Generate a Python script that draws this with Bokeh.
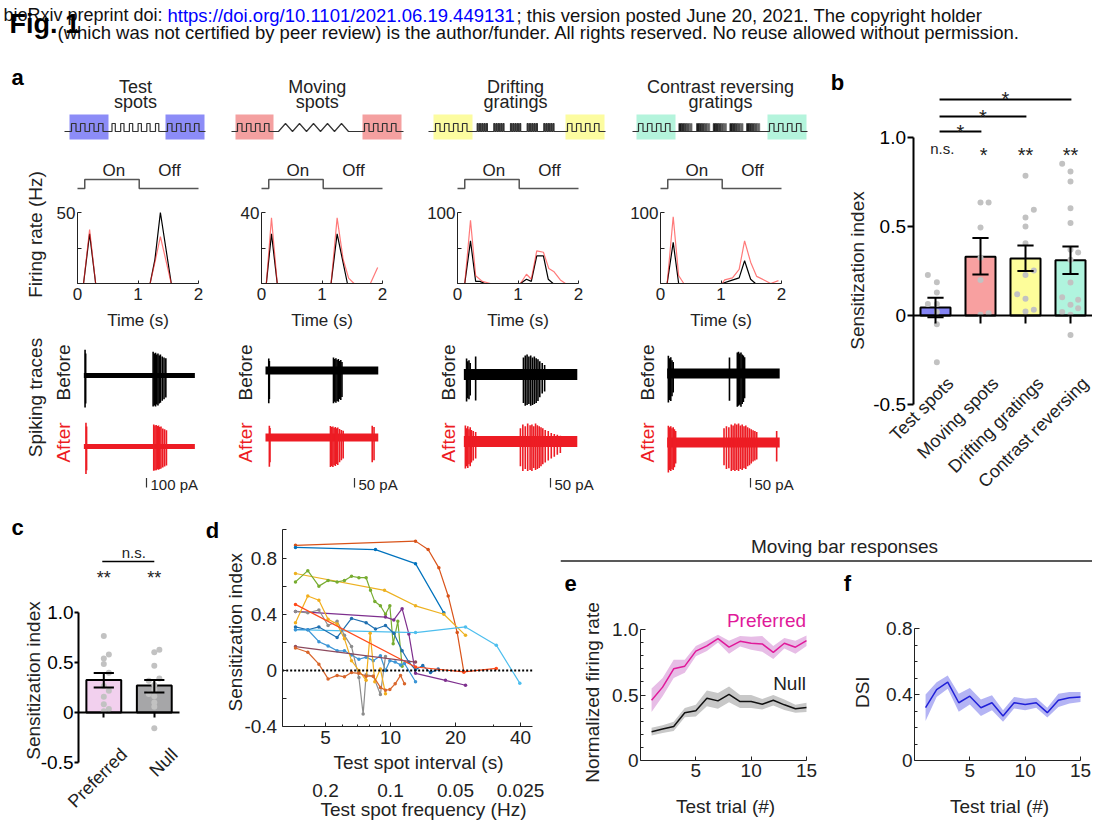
import numpy as np
from math import pi, log10
from bokeh.plotting import figure
from bokeh.models import (Range1d, Label, FixedTicker, CustomJSTickFormatter, Span,
                          LinearAxis, LogAxis)
from bokeh.layouts import row, column
from bokeh.embed import file_html
from bokeh.resources import INLINE

FONT = "Liberation Sans"
TXT = "#222222"
RED = "#ed1c24"

# ======================= DATA =======================
# ---- panel a : firing rate (Hz) vs time (s), before (black) / after (red)
a_titles = [["Test", "spots"], ["Moving", "spots"], ["Drifting", "gratings"], ["Contrast reversing", "gratings"]]
a_rate_max = [50, 40, 100, 100]
onoff_t = [0, 0.12, 0.12, 1.02, 1.02, 2.0]
onoff_level = [0, 0, 1, 1, 0, 0]
rate_before_t = [
    [0, 0.10, 0.20, 0.30, 1.20, 1.28, 1.37, 1.55, 1.92],
    [0, 0.08, 0.165, 0.26, 1.15, 1.25, 1.42, 1.92],
    [0, 0.12, 0.215, 0.30, 0.37, 0.45, 1.04, 1.14, 1.22, 1.31, 1.42, 1.50, 1.58, 1.92],
    [0, 0.11, 0.21, 0.30, 1.02, 1.16, 1.30, 1.39, 1.49, 1.57, 1.92],
]
rate_before_v = [
    [0, 0, 35, 0, 0, 17, 50, 0, 0],
    [0, 0, 28, 0, 0, 28, 0, 0],
    [0, 0, 60, 3, 3, 0, 0, 6, 3, 39, 39, 6, 0, 0],
    [0, 0, 58, 0, 0, 4, 8, 32, 6, 0, 0],
]
rate_after_t = [
    [0, 0.10, 0.20, 0.30, 1.20, 1.28, 1.37, 1.55, 1.92],
    [0, 0.08, 0.165, 0.26, 1.15, 1.25, 1.35, 1.44, 1.53, 1.80, 1.92],
    [0, 0.12, 0.215, 0.30, 0.41, 0.545, 1.04, 1.14, 1.22, 1.31, 1.42, 1.51, 1.59, 1.70, 1.785, 1.92],
    [0, 0.11, 0.21, 0.30, 0.385, 1.02, 1.06, 1.19, 1.30, 1.39, 1.49, 1.59, 1.71, 1.82, 1.95],
]
rate_after_v = [
    [0, 0, 38, 0, 0, 15, 33, 0, 0],
    [0, 0, 37, 0, 0, 37, 13.5, 3, 0, 0, 9],
    [0, 0, 89, 11, 3, 0, 0, 13, 6, 46, 44, 21, 17, 5, 0, 0],
    [0, 0, 94, 11, 0, 0, 5, 8, 20, 60, 30, 10, 5, 0, 4],
]
# ---- panel a : spiking traces (spike time s, upward / downward deflection pA)
trace_span = [[0.105, 1.94], [0.066, 1.93], [0.105, 1.98], [0.11, 1.97]]
scale_bar_pa = [100, 50, 50, 50]
sp_before_t = [
    [0.125, 0.135, 1.25, 1.27, 1.29, 1.31, 1.33, 1.35, 1.37, 1.40, 1.43, 1.46],
    [0.12, 0.13, 1.19, 1.21, 1.23, 1.25, 1.27, 1.29, 1.31, 1.33],
    [0.15, 0.17, 0.19, 0.21, 0.30, 1.09, 1.12, 1.15, 1.18, 1.21, 1.24, 1.27, 1.30, 1.33, 1.36, 1.40, 1.44],
    [0.13, 0.15, 0.17, 0.19, 0.21, 1.14, 1.27, 1.29, 1.31, 1.33, 1.35, 1.37, 1.39],
]
sp_before_up = [
    [270, 230, 250, 230, 240, 220, 230, 210, 220, 200, 190, 180],
    [63, 50, 68, 60, 65, 55, 60, 50, 55, 45],
    [84, 70, 75, 60, 95, 90, 100, 105, 95, 100, 90, 95, 85, 80, 70, 60, 50],
    [93, 80, 85, 70, 60, 84, 110, 115, 105, 110, 100, 95, 85],
]
sp_before_dn = [
    [335, 295, 325, 315, 325, 305, 315, 295, 285, 265, 250, 230],
    [172, 150, 172, 165, 170, 160, 165, 150, 155, 140],
    [142, 125, 130, 110, 137, 150, 165, 160, 155, 165, 160, 155, 150, 140, 120, 100, 90],
    [152, 140, 145, 120, 100, 143, 175, 170, 165, 175, 160, 150, 130],
]
sp_after_t = [
    [0.14, 0.15, 1.26, 1.28, 1.30, 1.32, 1.34, 1.36, 1.38, 1.41, 1.44, 1.47],
    [0.13, 0.14, 1.14, 1.16, 1.18, 1.20, 1.22, 1.24, 1.26, 1.29, 1.32, 1.35, 1.83, 1.86],
    [0.13, 0.15, 0.17, 0.19, 0.21, 0.23, 0.26, 0.30, 1.04, 1.08, 1.12, 1.16, 1.20, 1.23, 1.26,
     1.29, 1.32, 1.35, 1.38, 1.41, 1.45, 1.50, 1.55, 1.60, 1.65, 1.70],
    [0.13, 0.15, 0.17, 0.19, 0.21, 0.23, 0.25, 1.05, 1.09, 1.13, 1.17, 1.20, 1.23, 1.26, 1.29,
     1.32, 1.35, 1.38, 1.41, 1.44, 1.47, 1.50, 1.53, 1.56, 1.59, 1.92],
]
sp_after_up = [
    [250, 210, 230, 220, 225, 215, 220, 205, 210, 190, 180, 170],
    [62, 50, 60, 55, 58, 50, 55, 48, 52, 45, 40, 35, 62, 55],
    [84, 70, 80, 65, 75, 60, 55, 50, 70, 90, 80, 95, 85, 90, 80, 95, 85, 80, 75, 70, 60, 55, 45, 40, 35, 30],
    [88, 80, 85, 75, 80, 70, 60, 75, 85, 80, 95, 90, 100, 95, 100, 90, 95, 85, 90, 80, 75, 70, 65, 60, 55, 60],
]
sp_after_dn = [
    [290, 250, 255, 250, 250, 240, 245, 235, 230, 220, 210, 200],
    [154, 130, 155, 150, 155, 145, 150, 140, 145, 130, 120, 110, 130, 120],
    [142, 130, 140, 120, 130, 110, 100, 90, 130, 155, 145, 155, 150, 155, 140, 150, 145, 140, 130, 120,
     110, 100, 90, 80, 70, 60],
    [158, 145, 150, 140, 145, 130, 110, 120, 140, 135, 150, 145, 150, 145, 150, 140, 145, 135, 140, 125,
     120, 110, 100, 95, 90, 100],
]

# ---- panel b
b_cats = ["Test spots", "Moving spots", "Drifting gratings", "Contrast reversing"]
b_mean = [0.045, 0.33, 0.32, 0.31]
b_err_lo = [-0.01, 0.23, 0.25, 0.233]
b_err_hi = [0.10, 0.435, 0.393, 0.388]
b_dots = [
    [0.228, 0.187, 0.129, 0.064, 0.064, 0.019, -0.049, -0.262],
    [0.635, 0.635, 0.494, 0.324, 0.20, 0.004, 0.013],
    [0.785, 0.594, 0.55, 0.50, 0.406, 0.253, 0.228, 0.12, 0.094, 0.032, 0.022],
    [0.852, 0.809, 0.753, 0.603, 0.519, 0.369, 0.354, 0.313, 0.185, 0.103, 0.088, 0.06, 0.041, 0.019, 0.004, -0.109],
]
b_jitter = [
    [-0.17, 0.03, 0.03, -0.17, 0.03, 0.03, 0.03, 0.03],
    [0.0, 0.18, 0.0, 0.0, 0.0, 0.0, 0.18],
    [0.0, 0.185, 0.0, 0.0, 0.0, 0.185, 0.0, -0.185, 0.0, 0.185, 0.0],
    [-0.185, 0.0, 0.0, 0.0, 0.0, 0.0, 0.17, 0.0, 0.0, -0.185, 0.17, 0.0, 0.17, -0.185, 0.0, 0.0],
]
b_sig = ["n.s.", "*", "**", "**"]
b_pairs = [(1, 2), (1, 3), (1, 4)]
b_pair_sig = ["*", "*", "*"]

# ---- panel c
c_cats = ["Preferred", "Null"]
c_mean = [0.325, 0.27]
c_err_lo = [0.25, 0.20]
c_err_hi = [0.395, 0.325]
c_dots = [
    [0.766, 0.58, 0.54, 0.484, 0.397, 0.266, 0.218, 0.157, 0.083, 0.035, 0.013],
    [0.628, 0.603, 0.468, 0.34, 0.317, 0.276, 0.228, 0.186, 0.163, 0.099, 0.058, -0.157],
]
c_jitter = [
    [0, 0.1, 0, 0, 0.1, 0, 0.1, 0, 0, 0.1, 0],
    [0.1, 0, 0, 0.1, -0.11, 0, 0, -0.11, 0, 0, 0, 0],
]
c_sig = ["**", "**"]
c_pair_sig = "n.s."

# ---- panel d : sensitization index vs test spot interval (s)
d_x = [
    [3.63, 13.06, 14.94, 16.75, 18.5, 20.37, 21.86],
    [3.63, 8.52, 13.06, 17.66],
    [3.63, 9.38, 13.06, 17.66, 22.25],
    [3.63, 4.14, 4.66, 5.14, 5.66, 6.12, 6.60, 7.14, 7.71, 8.08, 8.46, 8.98, 9.48, 9.93, 10.29, 10.81, 11.32],
    [3.63, 9.48, 10.36, 11.32, 12.16, 13.06, 17.97, 22.25],
    [3.63, 13.06, 22.25, 30.9, 39.7],
    [3.63, 4.14, 4.66, 5.66, 6.60, 7.71, 8.52, 9.48, 10.36, 11.32, 12.16, 13.06, 14.11, 15.32, 16.62],
    [3.63, 4.14, 4.66, 5.14, 5.66, 6.12, 6.60, 7.14, 7.71, 8.32, 8.98, 9.48, 9.93, 10.51, 11.13, 11.61, 13.06],
    [3.63, 4.14, 4.66, 5.14, 5.66, 6.12, 6.60, 7.14, 7.47, 7.71, 8.32, 8.98, 9.48],
    [3.63, 4.14, 4.66, 5.14, 5.66, 6.12, 6.60, 7.14, 7.71, 8.05, 8.46, 8.98, 9.48],
    [3.63, 13.06, 21.86, 30.9],
    [3.63, 13.06],
    [3.63, 4.14, 4.66, 5.14, 5.66, 6.12, 6.60, 7.14, 7.71, 8.32, 8.98, 9.48, 9.93, 10.51, 11.13, 11.61],
]
d_y = [
    [0.89, 0.92, 0.86, 0.73, 0.53, 0.27, -0.01],
    [0.875, 0.86, 0.76, 0.41],
    [0.69, 0.57, 0.46, 0.40, 0.25],
    [0.63, 0.71, 0.60, 0.64, 0.63, 0.64, 0.67, 0.66, 0.66, 0.57, 0.49, 0.46, 0.40, 0.46, 0.19, 0.35, 0.03],
    [0.42, 0.38, 0.36, 0.44, 0.26, -0.02, -0.07, -0.105],
    [0.29, 0.27, 0.31, 0.18, -0.09],
    [0.31, 0.29, 0.31, 0.235, 0.37, 0.34, 0.295, 0.32, 0.265, 0.14, 0.06, 0.005, 0.035, -0.015, 0.01],
    [0.29, 0.29, 0.205, 0.175, 0.14, 0.14, 0.11, 0.08, 0.095, 0.07, 0.105, 0.0, 0.07, 0.06, 0.04, 0.05, -0.08],
    [0.42, 0.41, 0.43, 0.32, 0.35, 0.25, 0.17, -0.05, -0.31, -0.03, -0.04, -0.17, 0.10],
    [0.34, 0.53, 0.50, 0.365, 0.33, 0.225, 0.07, 0.0, -0.07, 0.265, -0.08, 0.01, -0.165],
    [0.47, 0.025, -0.01, 0.015],
    [0.17, 0.06],
    [0.16, 0.13, 0.045, -0.06, -0.035, -0.045, -0.015, -0.02, -0.04, -0.04, -0.12, -0.14, -0.135, -0.095, -0.035, -0.095],
]
d_colors = ["#D95319", "#0072BD", "#EDB120", "#77AC30", "#7E2F8E", "#4DBEEE", "#1f6fb0",
            "#3b95d6", "#8c8c8c", "#f2ae1c", "#ff4a1a", "#8c4a5e", "#d9662b"]
d_ticks = [5, 10, 20, 40]
d_minor = [4, 6, 7, 8, 9, 30]
D_XMIN, D_XMAX = 3.15, 45.3

# ---- panels e, f
trials = list(range(1, 16))
pref_mean = [0.46, 0.56, 0.70, 0.72, 0.835, 0.875, 0.93, 0.865, 0.91, 0.895, 0.89, 0.825, 0.895, 0.865, 0.915]
pref_sem = [0.09, 0.07, 0.07, 0.05, 0.04, 0.04, 0.03, 0.05, 0.04, 0.05, 0.06, 0.05, 0.04, 0.05, 0.04]
null_mean = [0.22, 0.24, 0.26, 0.365, 0.38, 0.475, 0.455, 0.505, 0.45, 0.45, 0.43, 0.46, 0.425, 0.395, 0.405]
null_sem = [0.03, 0.03, 0.035, 0.035, 0.045, 0.06, 0.06, 0.06, 0.05, 0.05, 0.04, 0.04, 0.04, 0.03, 0.035]
dsi_mean = [0.32, 0.43, 0.475, 0.35, 0.39, 0.32, 0.35, 0.27, 0.35, 0.34, 0.35, 0.29, 0.365, 0.38, 0.385]
dsi_sem = [0.08, 0.045, 0.04, 0.055, 0.05, 0.05, 0.045, 0.035, 0.035, 0.035, 0.03, 0.03, 0.04, 0.035, 0.03]


# ======================= HELPERS =======================
class Panel:
    """A figure whose frame fills its whole box (page pixels); the data mapping is
    fixed by two reference points per axis. x(px)/y(py) convert page pixels to data."""

    def __init__(self, box, xa, xb, ya, yb, xlog=False):
        X0, Y0, X1, Y1 = box
        self.xlog = xlog
        (pa, va), (pb, vb) = xa, xb
        if xlog:
            va, vb = log10(va), log10(vb)
        self.kx = (vb - va) / (pb - pa)
        self.cx = va - self.kx * pa
        (qa, wa), (qb, wb) = ya, yb
        self.ky = (wb - wa) / (qb - qa)
        self.cy = wa - self.ky * qa
        p = figure(width=X1 - X0, height=Y1 - Y0,
                   x_range=Range1d(self.x(X0), self.x(X1)), y_range=Range1d(self.y(Y1), self.y(Y0)),
                   x_axis_type="log" if xlog else "linear",
                   x_axis_location=None, y_axis_location=None, min_border=0,
                   output_backend="svg", toolbar_location=None)
        p.outline_line_color = None
        p.xgrid.visible = False
        p.ygrid.visible = False
        try:
            p.frame_align = False
        except Exception:
            pass
        self.p = p

    def x(self, px):
        v = self.cx + self.kx * px
        return 10 ** v if self.xlog else v

    def y(self, py):
        return self.cy + self.ky * py


def lab(P, x, y, text, size=19, color=TXT, align="center", angle=0, bold=False):
    P.p.add_layout(Label(x=x, y=y, text=text, text_font=FONT, text_font_size=f"{size}px",
                         text_color=color, text_align=align, text_baseline="middle", angle=angle,
                         text_font_style="bold" if bold else "normal"))


def mid(baseline_px, size):
    """page-pixel y of a text's middle, given where its baseline should sit"""
    return baseline_px - 0.3465 * size


def add_axis(P, side, at, ticks, bounds, minor=None, fmt=None, tin=0, tout=0, mtin=0, standoff=2,
             size=19, width=1, color=TXT, log=False):
    cls = LogAxis if log else LinearAxis
    ax = cls(fixed_location=at, bounds=bounds,
             ticker=FixedTicker(ticks=ticks, minor_ticks=minor or []))
    if fmt is not None:
        ax.formatter = CustomJSTickFormatter(code=fmt)
    ax.major_tick_in, ax.major_tick_out = tin, tout
    ax.minor_tick_in, ax.minor_tick_out = mtin, 0
    ax.major_label_standoff = standoff
    ax.axis_line_color = color
    ax.axis_line_width = width
    ax.major_tick_line_color = color
    ax.major_tick_line_width = width
    ax.minor_tick_line_color = color
    ax.major_label_text_font = FONT
    ax.major_label_text_font_size = f"{size}px"
    ax.major_label_text_color = color
    P.p.add_layout(ax, side)
    return ax


FMT1 = "return tick == 0 ? '0' : tick.toFixed(1);"
FMT_EMPTY = "return '';"


def err_bars(p, xs, lo, hi, cw, lw=2):
    p.segment(x0=xs, y0=lo, x1=xs, y1=hi, color="black", line_width=lw)
    p.segment(x0=[x - cw for x in xs], y0=hi, x1=[x + cw for x in xs], y1=hi, color="black", line_width=lw)
    p.segment(x0=[x - cw for x in xs], y0=lo, x1=[x + cw for x in xs], y1=lo, color="black", line_width=lw)


W, HGT = 1092, 820

# ======================= HEADER =======================
H = Panel((0, 0, W, 52), (0, 0), (W, W), (0, 0), (52, 52))
lab(H, 162, mid(21, 18), "bioRxiv preprint doi:", size=18, color="#111", align="right")
lab(H, 167, mid(21, 18.5), "https://doi.org/10.1101/2021.06.19.449131", size=18.5, color="#0000ff", align="left")
lab(H, 516, mid(21, 18.5), "; this version posted June 20, 2021. The copyright holder",
    size=18.5, color="#111", align="left")
lab(H, 57, mid(38.5, 18.5), "(which was not certified by peer review) is the author/funder. All rights reserved. "
    "No reuse allowed without permission.", size=18.5, color="#111", align="left")
lab(H, 9, mid(33, 27), "Fig. 1", size=27, color="#000", align="left", bold=True)

# ======================= PANEL a =======================
COLS = [dict(x0=0, w=228, t0=77), dict(x0=228, w=194, t0=261),
        dict(x0=422, w=200, t0=457), dict(x0=622, w=208, t0=660)]
TITLE_CX = [135, 316.7, 515, 720]
BOX_COLORS = ["#8c8cf7", "#f4a0a0", "#fcfca0", "#b4f4dc"]
ICONS = [
    dict(line=(64, 205), b1=(69, 108), b2=(165, 204), mid=("pulse", [111.5], 8.7, 3.3, 6)),
    dict(line=(231, 403), b1=(235, 273), b2=(362, 401), mid=("zig", [278], 14, 0, 5)),
    dict(line=(428, 605), b1=(433, 472), b2=(565, 604), mid=("grating", [476.7, 493.3, 510, 526.7, 543.3], 2.3, 1.0, 5)),
    dict(line=(632, 807), b1=(636, 675), b2=(767, 806), mid=("blocks", [678.3, 696, 712.7, 729.3, 746], 13.3, 0, 0)),
]
PA_PER_PX = [10.5, 5.26, 5.26, 5.26]
BAND_PX = [5, 8, 11, 10]
TR_BASE_BEFORE = [375, 370, 374, 373]
TR_BASE_AFTER = [446, 437, 441, 442]
SB_X = [146, 354, 550, 750]
BEF_X = [63, 244.5, 447.5, 646.5]


def icon_points(ic):
    base, hi = 131, 123
    pts = [(ic["line"][0], base)]

    def add_pulses(start, period, width, n):
        for k in range(n):
            s = start + k * period
            pts.extend([(s, base), (s, hi), (s + width, hi), (s + width, base)])

    add_pulses(ic["b1"][0] + 2, 9, 4.5, 4)
    kind, starts, a1, a2, n = ic["mid"]
    if kind == "pulse":
        add_pulses(starts[0], a1, a2, n)
    elif kind == "zig":
        for k in range(n):
            s = starts[0] + k * a1
            pts.extend([(s, base), (s + a1 / 2, hi), (s + a1, base)])
    elif kind == "grating":
        for g in starts:
            add_pulses(g, a1, a2, n)
    add_pulses(ic["b2"][0] + 2, 9, 4.5, 4)
    pts.append((ic["line"][1], base))
    return pts


a_cols = []
for i, c in enumerate(COLS):
    x0, w, t0 = c["x0"], c["w"], c["t0"]
    xa, xb = (t0, 0.0), (t0 + 121, 2.0)

    # --- stimulus schematic (y in page pixels)
    T = Panel((x0, 52, x0 + w, 160), xa, xb, (52, 52), (160, 160))
    ic = ICONS[i]
    T.p.quad(left=[T.x(ic["b1"][0]), T.x(ic["b2"][0])], right=[T.x(ic["b1"][1]), T.x(ic["b2"][1])],
             top=[114, 114], bottom=[139, 139], fill_color=BOX_COLORS[i], line_color=None)
    if ic["mid"][0] == "blocks":
        shades = ["#1c1c1c", "#2a2a2a", "#3a3a3a", "#4e4e4e", "#666666"]
        for s0 in ic["mid"][1]:
            sub = ic["mid"][2] / 5
            T.p.quad(left=[T.x(s0 + k * sub) for k in range(5)], right=[T.x(s0 + (k + 1) * sub) for k in range(5)],
                     top=[123] * 5, bottom=[131] * 5, fill_color=shades, line_color=shades, line_width=0.5)
    pts = icon_points(ic)
    T.p.line([T.x(px) for px, _ in pts], [py for _, py in pts], color="#333333", line_width=1.2)
    tx = T.x(TITLE_CX[i])
    lab(T, tx, mid(93, 18), a_titles[i][0], size=18)
    lab(T, tx, mid(107.5, 18), a_titles[i][1], size=18)
    if i == 0:
        lab(T, T.x(17), 77, "a", size=22, color="#000", bold=True)

    # --- firing rate
    ymax = a_rate_max[i]
    Rf = Panel((x0, 160, x0 + w, 335), xa, xb, (283, 0.0), (212, ymax))
    add_axis(Rf, "left", 0, [ymax], (0, ymax), minor=[ymax / 2], tin=4, mtin=4, standoff=2, size=17)
    add_axis(Rf, "below", 0, [0, 1, 2], (0, 2), tin=3, standoff=4, size=17)
    Rf.p.line(rate_before_t[i], rate_before_v[i], color="black", line_width=1.2)
    Rf.p.line(rate_after_t[i], rate_after_v[i], color="#ff2020", line_width=1.2, alpha=0.6)
    Rf.p.line(onoff_t, [Rf.y(188) if lv == 0 else Rf.y(179) for lv in onoff_level],
              color="#555555", line_width=1.5)
    lab(Rf, 0.6, Rf.y(mid(175.5, 17)), "On", size=17)
    lab(Rf, 1.52, Rf.y(mid(175.5, 17)), "Off", size=17)
    lab(Rf, 1.0, Rf.y(320), "Time (s)", size=17)
    if i == 0:
        lab(Rf, Rf.x(35), Rf.y(234), "Firing rate (Hz)", size=19, angle=pi / 2)

    # --- spiking traces (y in pA, before-trace baseline = 0)
    s = PA_PER_PX[i]
    ybp = TR_BASE_BEFORE[i]
    Tr = Panel((x0, 335, x0 + w, 500), xa, xb, (ybp, 0.0), (ybp - 1, s))
    off = Tr.y(TR_BASE_AFTER[i])
    for base, tt, up, dn, col in [(0.0, sp_before_t[i], sp_before_up[i], sp_before_dn[i], "black"),
                                  (off, sp_after_t[i], sp_after_up[i], sp_after_dn[i], RED)]:
        Tr.p.line(trace_span[i], [base, base], color=col, line_width=BAND_PX[i])
        Tr.p.segment(x0=tt, y0=[base + u for u in up], x1=tt, y1=[base - d for d in dn],
                     color=col, line_width=1.6)
    sbx, sby = Tr.x(SB_X[i]), Tr.y(487)
    Tr.p.segment(x0=[sbx], y0=[sby], x1=[sbx], y1=[sby + scale_bar_pa[i]], color="#333333", line_width=1.2)
    lab(Tr, Tr.x(SB_X[i] + 4), Tr.y(484), f"{scale_bar_pa[i]} pA", size=15, align="left")
    lab(Tr, Tr.x(BEF_X[i]), Tr.y(372), "Before", size=19, angle=pi / 2)
    lab(Tr, Tr.x(BEF_X[i]), Tr.y(442), "After", size=19, color=RED, angle=pi / 2)
    if i == 0:
        lab(Tr, Tr.x(35), Tr.y(397), "Spiking traces", size=19, angle=pi / 2)

    a_cols.append(column(T.p, Rf.p, Tr.p))

# ======================= PANEL b =======================
B = Panel((830, 52, W, 500), (935, 1.0), (980, 2.0), (315, 0.0), (137, 1.0))
b_x = [1, 2, 3, 4]
B.p.vbar(x=b_x, width=0.667, top=b_mean, bottom=0,
         fill_color=["#8484f4", "#f8a0a0", "#fdfd9a", "#b0f4de"], line_color="black", line_width=2)
B.p.scatter([k + 1 + j for k in range(4) for j in b_jitter[k]],
            [v for k in range(4) for v in b_dots[k]], size=6, color="#c2c2c2", line_color=None)
err_bars(B.p, b_x, b_err_lo, b_err_hi, 0.18)
add_axis(B, "left", 0.5, [-0.5, 0, 0.5, 1.0], (-0.5, 1.0), fmt=FMT1, tout=6, standoff=1, width=2, color="black")
add_axis(B, "below", 0, b_x, (0.5, B.x(W)), fmt=FMT_EMPTY, tout=8, width=2, color="black")
for k, name in enumerate(b_cats):
    lab(B, k + 1 + 0.33, B.y(380), name, size=18, align="right", angle=pi / 4)
for k, sg in enumerate(b_sig):
    if sg == "n.s.":
        lab(B, k + 1 + 0.15, B.y(148), sg, size=15)
    else:
        lab(B, k + 1 + (0.07 if k == 1 else 0), B.y(154), sg, size=20)
for (p1, p2), sg, ly, sy in zip(b_pairs, b_pair_sig, [131, 116, 99], [131.5, 116.5, 98.5]):
    xa_, xb_ = p1 + 0.09, p2 + 0.02
    B.p.segment(x0=[xa_], y0=[B.y(ly)], x1=[xb_], y1=[B.y(ly)], color="black", line_width=2)
    lab(B, (xa_ + xb_) / 2, B.y(sy), sg, size=20)
lab(B, B.x(837), B.y(81.7), "b", size=22, color="#000", bold=True)
lab(B, B.x(856.7), B.y(270), "Sensitization index", size=19, angle=pi / 2)

# ======================= PANEL c =======================
C = Panel((0, 500, 200, HGT), (103.3, 1.0), (153.8, 2.0), (712, 0.0), (612, 1.0))
c_x = [1, 2]
C.p.vbar(x=c_x, width=0.69, top=c_mean, bottom=0, fill_color=["#f2d0ee", "#a6a6a8"],
         line_color="black", line_width=2)
C.p.scatter([k + 1 + j for k in range(2) for j in c_jitter[k]],
            [v for k in range(2) for v in c_dots[k]], size=6, color="#c2c2c2", line_color=None)
err_bars(C.p, c_x, c_err_lo, c_err_hi, 0.2)
add_axis(C, "left", 0.5, [-0.5, 0, 0.5, 1.0], (-0.5, 1.0), fmt=FMT1, tout=4, standoff=1, width=2, color="black")
add_axis(C, "below", 0, c_x, (0.5, 2.5), fmt=FMT_EMPTY, tout=5, width=2, color="black")
for k, name in enumerate(c_cats):
    lab(C, k + 1 + 0.40, C.y(751), name, size=18, align="right", angle=pi / 4)
for k, sg in enumerate(c_sig):
    lab(C, k + 1, C.y(577), sg, size=18)
C.p.segment(x0=[0.97], y0=[C.y(561)], x1=[2.0], y1=[C.y(561)], color="black", line_width=1.5)
lab(C, C.x(133.3), C.y(551.5), c_pair_sig, size=15)
lab(C, C.x(17), C.y(526.7), "c", size=22, color="#000", bold=True)
lab(C, C.x(33), C.y(680), "Sensitization index", size=19, angle=pi / 2)

# ======================= PANEL d =======================
D = Panel((200, 500, 560, HGT), (325, 5.0), (390, 10.0), (670, 0.0), (557.5, 0.8), xlog=True)
for xs, ys, col in zip(d_x, d_y, d_colors):
    D.p.line(xs, ys, color=col, line_width=1.2)
    D.p.scatter(xs, ys, size=3.5, color=col, line_color=None)
D.p.line([D_XMIN, D_XMAX], [0, 0], color="black", line_dash="2 2", line_width=2)
add_axis(D, "left", D_XMIN, [-0.4, 0, 0.4, 0.8], (-0.4, 1.0), minor=[-0.2, 0.2, 0.6, 1.0],
         fmt=FMT1, tin=4, mtin=4, standoff=5)
add_axis(D, "below", -0.4, d_ticks, (D_XMIN, D_XMAX), minor=d_minor, fmt="return String(tick);",
         tin=4, mtin=2, standoff=4, log=True)
for v in d_ticks:
    lab(D, v, D.y(790), f"{1 / v:g}", size=19)
lab(D, D.x(235), D.y(631.7), "Sensitization index", size=19, angle=pi / 2)
lab(D, D.x(418), D.y(762), "Test spot interval (s)", size=19)
lab(D, D.x(423), D.y(808.5), "Test spot frequency (Hz)", size=19)
lab(D, D.x(212), D.y(530), "d", size=22, color="#000", bold=True)

# ======================= PANELS e, f =======================
TE = Panel((560, 500, W, 562), (560, 560), (W, W), (500, 500), (562, 562))
lab(TE, 844, 546, "Moving bar responses", size=19)
TE.p.add_layout(Span(location=560.5, dimension="width", line_color="#222222", line_width=1.5))

E = Panel((560, 562, 838, HGT), (640, 0.0), (806, 15.0), (760, 0.0), (629, 1.0))
E.p.varea(x=trials, y1=[m - s_ for m, s_ in zip(pref_mean, pref_sem)],
          y2=[m + s_ for m, s_ in zip(pref_mean, pref_sem)], fill_color="#e7bde6")
E.p.varea(x=trials, y1=[m - s_ for m, s_ in zip(null_mean, null_sem)],
          y2=[m + s_ for m, s_ in zip(null_mean, null_sem)], fill_color="#c8c8c8")
E.p.line(trials, pref_mean, color="#e0199a", line_width=1.5)
E.p.line(trials, null_mean, color="#111111", line_width=1.5)
add_axis(E, "left", 0, [0, 0.5, 1.0], (0, 1.0), minor=[0.1, 0.2, 0.3, 0.4, 0.6, 0.7, 0.8, 0.9],
         fmt=FMT1, tin=5, mtin=3, standoff=2)
add_axis(E, "below", 0, [5, 10, 15], (0, 15), tin=4, standoff=3)
lab(E, E.x(591.7), E.y(692), "Normalized firing rate", size=19, angle=pi / 2)
lab(E, E.x(725), E.y(806), "Test trial (#)", size=19)
lab(E, E.x(766), E.y(mid(626.7, 19)), "Preferred", size=19, color="#e0199a")
lab(E, E.x(789), E.y(mid(690, 19)), "Null", size=19, color="#222222")
lab(E, E.x(570), E.y(583.3), "e", size=22, color="#000", bold=True)

FS = -3  # panel f nudged left so its last tick label stays inside the page
F = Panel((838, 562, W, HGT), (917 + FS, 0.0), (1083 + FS, 15.0), (760, 0.0), (628, 0.8))
F.p.varea(x=trials, y1=[m - s_ for m, s_ in zip(dsi_mean, dsi_sem)],
          y2=[m + s_ for m, s_ in zip(dsi_mean, dsi_sem)], fill_color="#b4b4f4")
F.p.line(trials, dsi_mean, color="#2020d8", line_width=1.5)
add_axis(F, "left", 0, [0, 0.4, 0.8], (0, 0.8), minor=[0.1, 0.2, 0.3, 0.5, 0.6, 0.7],
         fmt=FMT1, tin=5, mtin=3, standoff=2)
add_axis(F, "below", 0, [5, 10, 15], (0, 15), tin=4, standoff=3)
lab(F, F.x(865 + FS), F.y(691.7), "DSI", size=19, angle=pi / 2)
lab(F, F.x(1002 + FS), F.y(806), "Test trial (#)", size=19)
lab(F, F.x(847), F.y(583), "f", size=22, color="#000", bold=True)

# ======================= LAYOUT =======================
rowA = row(*a_cols, B.p)
rowB = row(C.p, D.p, column(TE.p, row(E.p, F.p)))
p = column(H.p, rowA, rowB)
open("out.html", "w").write(file_html(p, INLINE, "Fig. 1"))
